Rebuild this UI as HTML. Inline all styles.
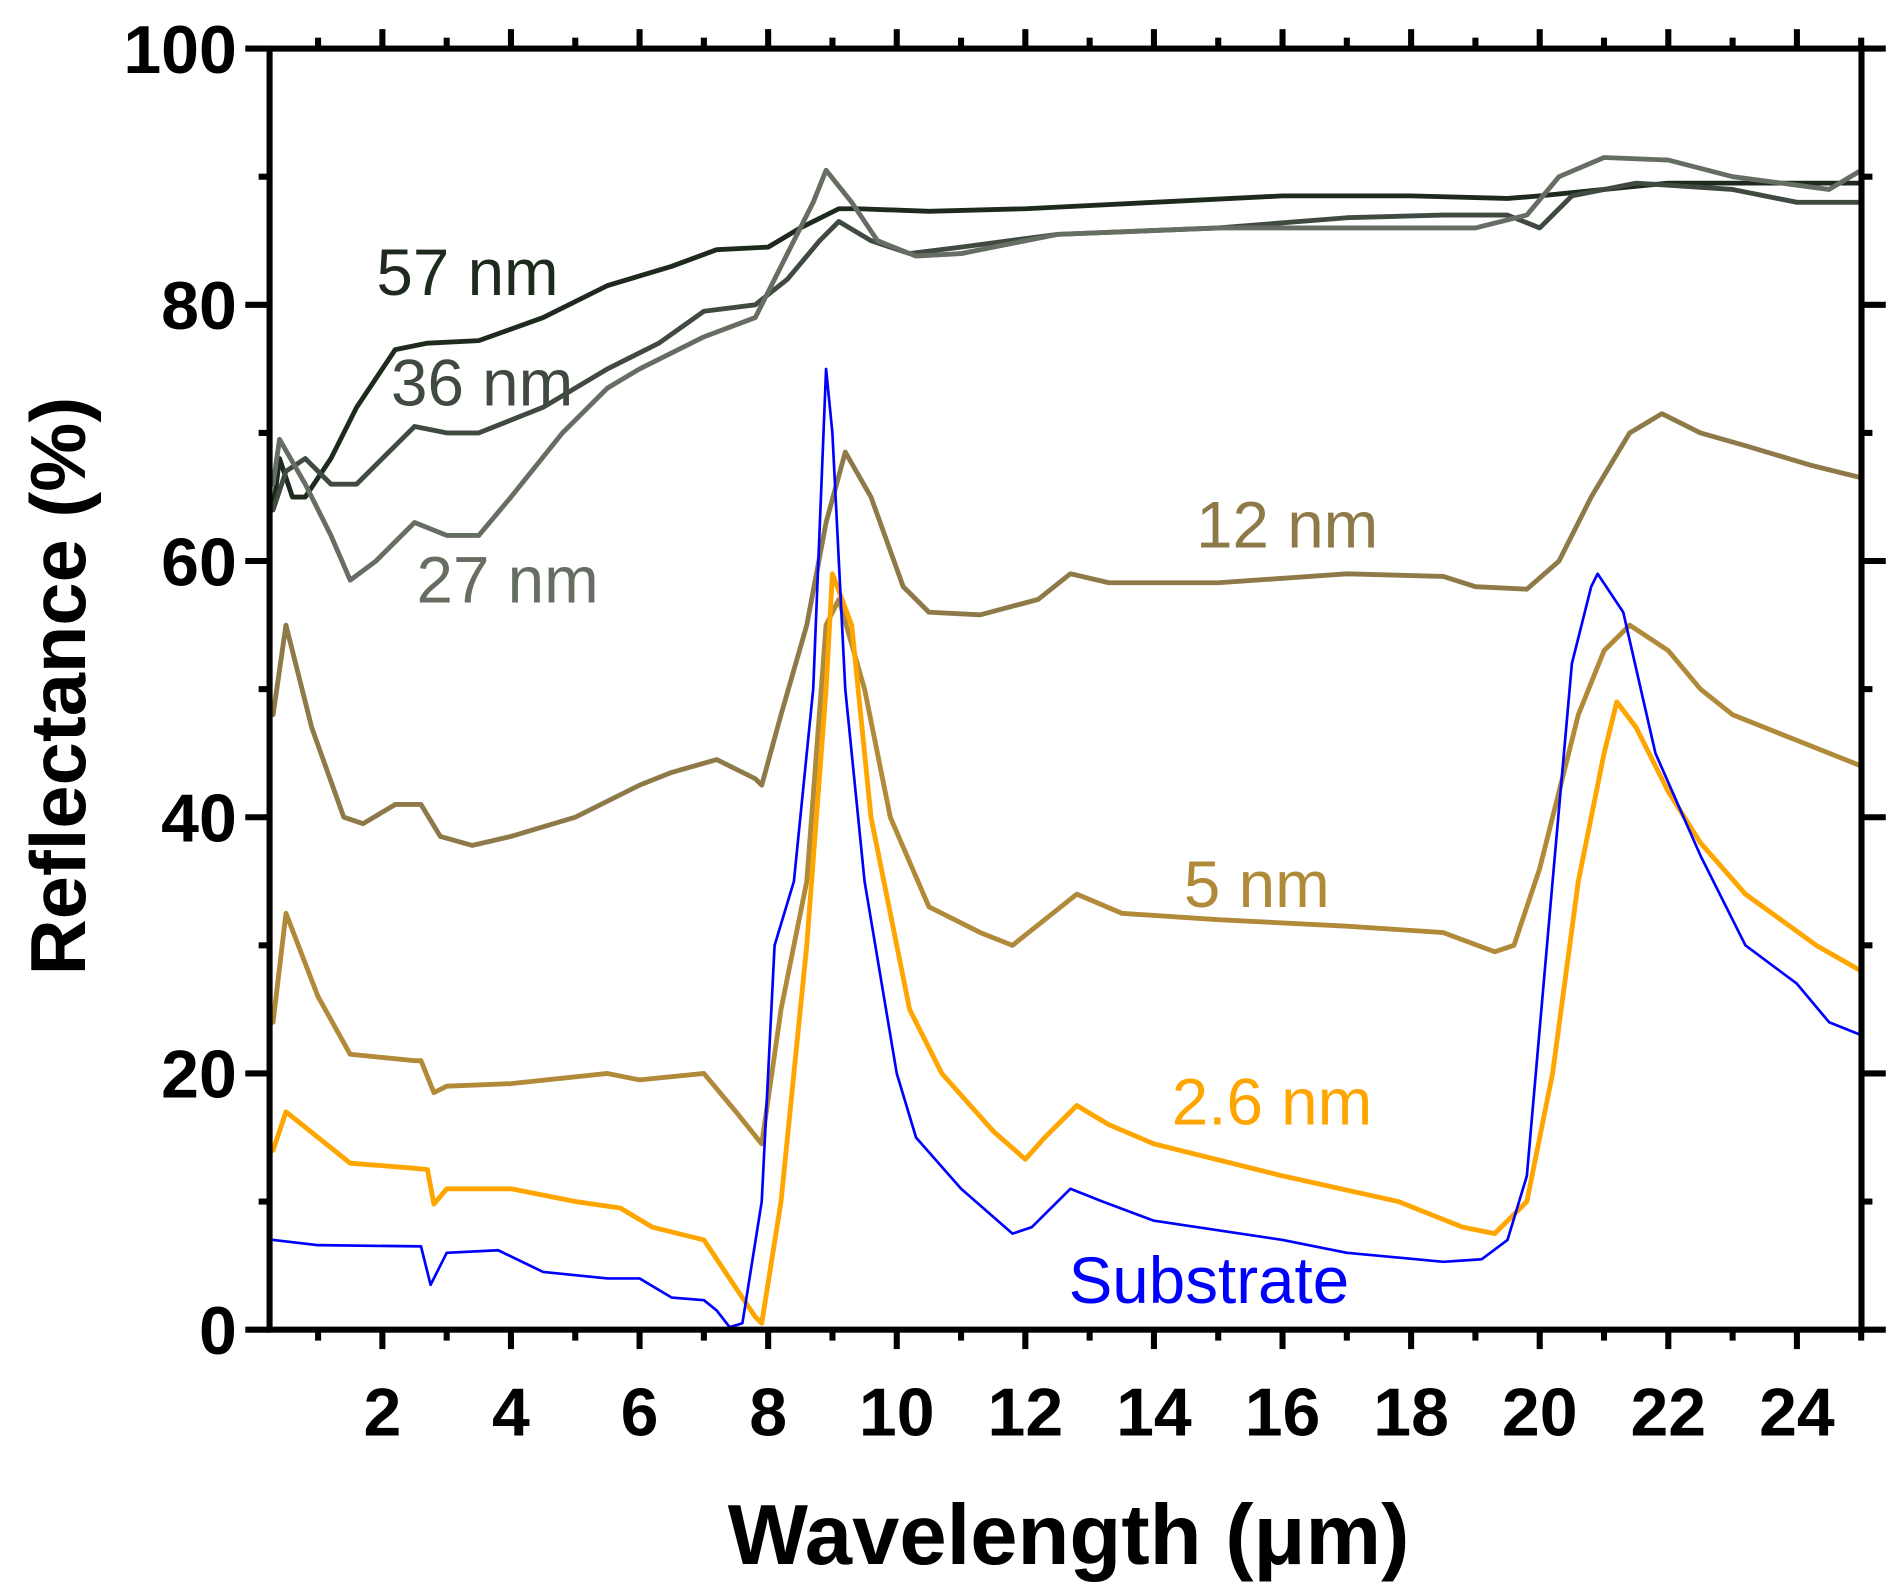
<!DOCTYPE html>
<html><head><meta charset="utf-8"><style>
html,body{margin:0;padding:0;background:#fff;}
svg{display:block;}
</style></head><body>
<svg id="s" width="1904" height="1595" viewBox="0 0 1568 1313.5" xmlns="http://www.w3.org/2000/svg" font-family="Liberation Sans, Arial, sans-serif">
<g id="curves" fill="none" stroke-linejoin="round" stroke-linecap="round"></g>
<g id="axes" stroke="#000" stroke-width="5" fill="none"></g>
<g font-weight="bold" font-size="56" fill="#000" id="lbl"></g>
<text x="880" y="1288" font-size="70" font-weight="bold" text-anchor="middle">Wavelength (μm)</text>
<text transform="translate(70,565) rotate(-90)" font-size="64" font-weight="bold" text-anchor="middle">Reflectance (%)</text>
<g font-size="54">
<text x="310" y="243" fill="#1e2a1e">57 nm</text>
<text x="322" y="334" fill="#404a40">36 nm</text>
<text x="343" y="496" fill="#666e63">27 nm</text>
<text x="985" y="451" fill="#8e7a48">12 nm</text>
<text x="975" y="747" fill="#b08a38">5 nm</text>
<text x="965" y="926" fill="#ffa500">2.6 nm</text>
<text x="880" y="1073" fill="#0000ff">Substrate</text>
</g>
</svg>
<script>
var NS="http://www.w3.org/2000/svg";
function X(l){return 209+52.95*l;}
function Y(r){return 1095-10.55*r;}
function mk(t,a,p){var e=document.createElementNS(NS,t);for(var k in a)e.setAttribute(k,a[k]);(p||document.getElementById('curves')).appendChild(e);return e;}
var data={
sub:{c:"#0000ff",w:2.2,d:[[0.3,7],[1,6.6],[2.6,6.5],[2.75,3.5],[3,6],[3.8,6.2],[4.5,4.5],[5.5,4],[6,4],[6.5,2.5],[7,2.3],[7.2,1.5],[7.4,0.2],[7.6,0.5],[7.9,10],[8.1,30],[8.4,35],[8.7,50],[8.9,75],[9.0,70],[9.2,50],[9.5,35],[10,20],[10.3,15],[11,11],[11.8,7.5],[12.1,8],[12.7,11],[13.2,10],[14,8.5],[16,7],[17,6],[18.5,5.3],[19.1,5.5],[19.5,7],[19.8,12],[20.2,35],[20.5,52],[20.8,58],[20.9,59],[21.3,56],[21.8,45],[22.5,37],[23.2,30],[24,27],[24.5,24],[25,23]]},
o26:{c:"#ffa500",w:4,d:[[0.3,14],[0.5,17],[1.5,13],[2.5,12.6],[2.7,12.5],[2.8,9.8],[3,11],[4,11],[5,10],[5.7,9.5],[6.2,8],[7,7],[7.4,4],[7.8,1],[7.9,0.5],[8.2,10],[8.6,30],[8.9,50],[9.0,59],[9.3,55],[9.6,40],[10.2,25],[10.7,20],[11.5,15.5],[12,13.3],[12.3,15],[12.8,17.5],[13.3,16],[14,14.5],[16,12],[17.8,10],[18.8,8],[19.3,7.5],[19.8,10],[20.2,20],[20.6,35],[21,45],[21.2,49],[21.5,47],[22,42],[22.5,38],[23.2,34],[24.3,30],[25,28]]},
n5:{c:"#b08a38",w:4,d:[[0.3,24],[0.5,32.5],[1,26],[1.5,21.5],[2.5,21],[2.6,21],[2.8,18.5],[3,19],[4,19.2],[5.5,20],[6,19.5],[7,20],[7.5,17],[7.9,14.5],[8.2,25],[8.6,35],[8.9,55],[9.1,57],[9.5,50],[9.9,40],[10.5,33],[11.3,31],[11.8,30],[12.3,32],[12.8,34],[13.5,32.5],[15,32],[17,31.5],[18.5,31],[19.3,29.5],[19.6,30],[20,36],[20.6,48],[21,53],[21.4,55],[22,53],[22.5,50],[23,48],[24,46],[25,44]]},
n12:{c:"#8e7a48",w:4,d:[[0.3,48],[0.5,55],[0.9,47],[1.4,40],[1.7,39.5],[2.2,41],[2.6,41],[2.9,38.5],[3.4,37.8],[4,38.5],[5,40],[6,42.5],[6.5,43.5],[7.2,44.5],[7.8,43],[7.9,42.5],[8.2,48],[8.6,55],[8.9,63],[9.2,68.5],[9.6,65],[10.1,58],[10.5,56],[11.3,55.8],[12.2,57],[12.7,59],[13.3,58.3],[15,58.3],[17,59],[18.5,58.8],[19,58],[19.8,57.8],[20.3,60],[20.8,65],[21.4,70],[21.9,71.5],[22.5,70],[23.2,69],[24.2,67.5],[25,66.5]]},
n27:{c:"#666e63",w:4,d:[[0.3,66],[0.4,69.5],[0.8,66],[1.2,62],[1.5,58.5],[1.9,60],[2.5,63],[3,62],[3.5,62],[4,65],[4.8,70],[5.5,73.5],[6,75],[7,77.5],[7.8,79],[8.2,83],[8.7,88],[8.9,90.5],[9.3,88],[9.7,85],[10.3,83.8],[11,84],[12.5,85.5],[15,86],[17,86],[19,86],[19.8,87],[20.3,90],[21,91.5],[22,91.3],[23,90],[24.5,89],[25,90.5]]},
n36:{c:"#404a40",w:4,d:[[0.3,64],[0.5,67],[0.8,68],[1.2,66],[1.6,66],[2.2,69],[2.5,70.5],[3,70],[3.5,70],[4.5,72],[5.5,75],[6.3,77],[7,79.5],[7.8,80],[8.3,82],[8.8,85],[9.1,86.5],[9.6,85],[10.2,84],[11,84.5],[12.5,85.5],[15,86],[17,86.8],[18.5,87],[19.5,87],[20,86],[20.5,88.5],[21.5,89.5],[23,89],[24,88],[25,88]]},
n57:{c:"#1e2a1e",w:4,d:[[0.3,64],[0.4,68],[0.6,65],[0.8,65],[1.2,68],[1.6,72],[2.2,76.5],[2.7,77],[3.5,77.2],[4.5,79],[5.5,81.5],[6.5,83],[7.2,84.3],[8,84.5],[8.5,86],[9.1,87.5],[9.4,87.5],[10.5,87.3],[12,87.5],[14,88],[16,88.5],[18,88.5],[19.5,88.3],[20,88.5],[21,89],[22,89.5],[25,89.5]]}
};
["n57","n36","n27","n12","n5","o26","sub"].forEach(function(k){var s=data[k];
 var d=s.d.map(function(p,i){return (i?"L":"M")+X(p[0]).toFixed(1)+","+Y(p[1]).toFixed(1);}).join("");
 mk("path",{d:d,stroke:s.c,"stroke-width":s.w});});
var ax=document.getElementById('axes'),lb=document.getElementById('lbl');
mk("rect",{x:222,y:40,width:1311,height:1055},ax);
for(var l=1;l<=25;l++){var x=X(l),len=(l%2==0)?16:9;
 mk("line",{x1:x,y1:1095,x2:x,y2:1095+len},ax);
 mk("line",{x1:x,y1:40,x2:x,y2:40-len},ax);
 if(l%2==0){var t=mk("text",{x:x,y:1182,"text-anchor":"middle"},lb);t.textContent=l;}}
for(var r=0;r<=100;r+=10){var y=Y(r),len=(r%20==0)?20:9;
 mk("line",{x1:222,y1:y,x2:222-len,y2:y},ax);
 mk("line",{x1:1533,y1:y,x2:1533+len,y2:y},ax);
 if(r%20==0){var t=mk("text",{x:195,y:y+20,"text-anchor":"end"},lb);t.textContent=r;}}
</script>
</body></html>
